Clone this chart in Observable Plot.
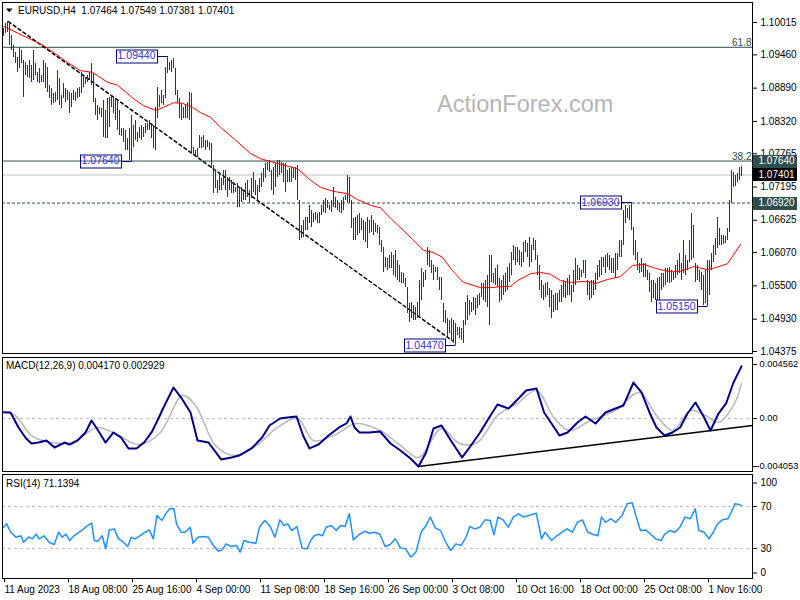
<!DOCTYPE html>
<html><head><meta charset="utf-8">
<script src="https://cdn.jsdelivr.net/npm/d3@7"></script>
<script src="https://cdn.jsdelivr.net/npm/@observablehq/plot@0.6"></script>
<style>
html,body{margin:0;padding:0;background:#fff;}
#chart{position:relative;width:800px;height:600px;overflow:hidden;background:#fff;}
#chart > svg{position:absolute;left:0;}
</style></head><body><div id="chart"></div>
<script>
// ---------- DATA ----------
const titleText = ["EURUSD,H4", "1.07464", "1.07549", "1.07381", "1.07401"];
const macdTitle = "MACD(12,26,9) 0.004170 0.002929";
const rsiTitle = "RSI(14) 71.1394";

const barHigh = [
1.0991,1.1000,1.1003,1.1002,1.0979,1.0962,1.0950,1.0942,1.0959,1.0954,
1.0936,1.0933,1.0928,1.0936,1.0928,1.0954,1.0931,1.0916,1.0923,1.0911,
1.0936,1.0931,1.0924,1.0894,1.0888,1.0880,1.0882,1.0919,1.0906,1.0876,
1.0897,1.0888,1.0885,1.0882,1.0880,1.0885,1.0882,1.0888,1.0890,1.0916,
1.0911,1.0907,1.0911,1.0916,1.0931,1.0914,1.0871,1.0859,1.0856,1.0854,
1.0868,1.0851,1.0871,1.0873,1.0876,1.0873,1.0871,1.0868,1.0851,1.0820,
1.0820,1.0816,1.0803,1.0820,1.0842,1.0825,1.0834,1.0813,1.0822,1.0825,
1.0822,1.0828,1.0828,1.0834,1.0828,1.0825,1.0856,1.0890,1.0876,1.0885,
1.0876,1.0924,1.0944,1.0933,1.0936,1.0940,1.0923,1.0885,1.0871,1.0863,
1.0856,1.0859,1.0864,1.0882,1.0880,1.0787,1.0782,1.0786,1.0808,1.0804,
1.0808,1.0799,1.0799,1.0796,1.0794,1.0756,1.0748,1.0731,1.0743,1.0734,
1.0748,1.0748,1.0736,1.0736,1.0731,1.0726,1.0719,1.0726,1.0719,1.0719,
1.0714,1.0726,1.0731,1.0714,1.0734,1.0744,1.0731,1.0722,1.0734,1.0743,
1.0751,1.0760,1.0762,1.0765,1.0748,1.0753,1.0760,1.0765,1.0765,1.0762,
1.0760,1.0760,1.0748,1.0751,1.0753,1.0753,1.0753,1.0756,1.0696,1.0654,
1.0662,1.0667,1.0667,1.0688,1.0679,1.0674,1.0676,1.0674,1.0676,1.0688,
1.0696,1.0700,1.0696,1.0688,1.0696,1.0719,1.0702,1.0696,1.0691,1.0696,
1.0702,1.0705,1.0739,1.0736,1.0696,1.0666,1.0667,1.0671,1.0674,1.0666,
1.0662,1.0659,1.0667,1.0662,1.0671,1.0662,1.0657,1.0654,1.0650,1.0628,
1.0616,1.0599,1.0597,1.0602,1.0607,1.0602,1.0611,1.0594,1.0585,1.0573,
1.0571,1.0563,1.0547,1.0520,1.0522,1.0516,1.0513,1.0522,1.0559,1.0580,
1.0573,1.0576,1.0616,1.0611,1.0594,1.0585,1.0582,1.0582,1.0564,1.0564,
1.0520,1.0508,1.0494,1.0491,1.0494,1.0491,1.0486,1.0479,1.0479,1.0477,
1.0491,1.0522,1.0534,1.0525,1.0522,1.0530,1.0528,1.0534,1.0537,1.0554,
1.0554,1.0559,1.0568,1.0602,1.0602,1.0571,1.0580,1.0585,1.0563,1.0559,
1.0568,1.0571,1.0582,1.0588,1.0607,1.0619,1.0616,1.0616,1.0611,1.0607,
1.0624,1.0628,1.0623,1.0633,1.0619,1.0631,1.0628,1.0602,1.0585,1.0559,
1.0551,1.0554,1.0556,1.0546,1.0542,1.0534,1.0537,1.0537,1.0542,1.0551,
1.0559,1.0556,1.0563,1.0568,1.0551,1.0576,1.0597,1.0585,1.0580,1.0576,
1.0594,1.0594,1.0559,1.0556,1.0559,1.0559,1.0571,1.0585,1.0594,1.0599,
1.0599,1.0602,1.0606,1.0602,1.0597,1.0597,1.0606,1.0606,1.0628,1.0628,
1.0679,1.0688,1.0683,1.0688,1.0693,1.0650,1.0628,1.0607,1.0588,1.0597,
1.0588,1.0588,1.0576,1.0571,1.0559,1.0559,1.0554,1.0563,1.0564,1.0571,
1.0571,1.0580,1.0580,1.0582,1.0576,1.0573,1.0585,1.0594,1.0606,1.0588,
1.0628,1.0602,1.0594,1.0628,1.0674,1.0654,1.0588,1.0585,1.0576,1.0573,
1.0568,1.0576,1.0594,1.0594,1.0606,1.0619,1.0631,1.0667,1.0648,1.0636,
1.0636,1.0635,1.0648,1.0696,1.0748,1.0744,1.0739,1.0743,1.0753,1.0755];

const barLow = [
1.0978,1.0983,1.0984,1.0962,1.0954,1.0942,1.0931,1.0916,1.0923,1.0931,
1.0873,1.0911,1.0907,1.0906,1.0899,1.0902,1.0911,1.0899,1.0897,1.0899,
1.0899,1.0888,1.0882,1.0871,1.0859,1.0863,1.0864,1.0868,1.0859,1.0854,
1.0871,1.0864,1.0868,1.0846,1.0856,1.0868,1.0866,1.0871,1.0873,1.0880,
1.0890,1.0895,1.0899,1.0902,1.0894,1.0864,1.0842,1.0834,1.0844,1.0839,
1.0804,1.0803,1.0803,1.0822,1.0856,1.0846,1.0834,1.0816,1.0808,1.0806,
1.0796,1.0782,1.0782,1.0765,1.0764,1.0787,1.0799,1.0796,1.0803,1.0799,
1.0804,1.0811,1.0816,1.0816,1.0803,1.0786,1.0782,1.0837,1.0856,1.0863,
1.0859,1.0871,1.0914,1.0919,1.0916,1.0923,1.0876,1.0863,1.0837,1.0834,
1.0837,1.0837,1.0837,1.0834,1.0777,1.0774,1.0770,1.0770,1.0786,1.0786,
1.0787,1.0782,1.0787,1.0782,1.0751,1.0708,1.0717,1.0708,1.0714,1.0714,
1.0722,1.0714,1.0702,1.0714,1.0708,1.0708,1.0710,1.0684,1.0684,1.0693,
1.0696,1.0696,1.0702,1.0691,1.0700,1.0710,1.0705,1.0696,1.0710,1.0719,
1.0727,1.0734,1.0748,1.0744,1.0714,1.0705,1.0719,1.0736,1.0739,1.0743,
1.0727,1.0710,1.0727,1.0727,1.0727,1.0734,1.0731,1.0696,1.0628,1.0631,
1.0633,1.0645,1.0645,1.0657,1.0650,1.0659,1.0662,1.0657,1.0657,1.0671,
1.0676,1.0674,1.0683,1.0679,1.0676,1.0684,1.0683,1.0679,1.0676,1.0674,
1.0679,1.0696,1.0693,1.0691,1.0648,1.0628,1.0628,1.0636,1.0640,1.0645,
1.0628,1.0624,1.0614,1.0640,1.0642,1.0636,1.0642,1.0640,1.0619,1.0607,
1.0573,1.0582,1.0576,1.0580,1.0580,1.0568,1.0564,1.0559,1.0556,1.0554,
1.0554,1.0547,1.0503,1.0487,1.0494,1.0491,1.0491,1.0494,1.0494,1.0525,
1.0547,1.0559,1.0585,1.0582,1.0571,1.0559,1.0573,1.0559,1.0542,1.0525,
1.0487,1.0486,1.0462,1.0468,1.0456,1.0451,1.0447,1.0465,1.0460,1.0456,
1.0451,1.0482,1.0491,1.0499,1.0504,1.0508,1.0499,1.0511,1.0516,1.0530,
1.0525,1.0522,1.0513,1.0482,1.0556,1.0554,1.0551,1.0547,1.0522,1.0525,
1.0534,1.0539,1.0542,1.0556,1.0568,1.0594,1.0585,1.0590,1.0585,1.0582,
1.0590,1.0607,1.0599,1.0582,1.0590,1.0611,1.0594,1.0568,1.0542,1.0528,
1.0525,1.0530,1.0534,1.0513,1.0494,1.0504,1.0508,1.0508,1.0522,1.0522,
1.0530,1.0528,1.0534,1.0534,1.0522,1.0539,1.0551,1.0559,1.0559,1.0564,
1.0571,1.0563,1.0534,1.0525,1.0528,1.0534,1.0542,1.0559,1.0564,1.0568,
1.0582,1.0571,1.0582,1.0576,1.0571,1.0571,1.0563,1.0576,1.0599,1.0599,
1.0619,1.0657,1.0666,1.0662,1.0645,1.0602,1.0594,1.0576,1.0571,1.0573,
1.0564,1.0564,1.0559,1.0539,1.0522,1.0528,1.0525,1.0525,1.0525,1.0542,
1.0547,1.0551,1.0556,1.0554,1.0556,1.0559,1.0563,1.0568,1.0571,1.0559,
1.0571,1.0568,1.0576,1.0590,1.0594,1.0597,1.0556,1.0559,1.0556,1.0542,
1.0516,1.0520,1.0515,1.0534,1.0576,1.0590,1.0602,1.0614,1.0619,1.0619,
1.0621,1.0623,1.0628,1.0642,1.0691,1.0719,1.0720,1.0727,1.0731,1.0738];

const maBar = [0,20,32,38.5,44.5,52,57,65,70,76,80,85,89.5,94.5,98.5,103.5,108.5,115,123.5,128.5,133.5,147,153.5,158.5,165,172,177,183.5,188.5,193.5,200,204.5,210,215,219.5,224.5,230,238.5,243.5,250,253.5,257,263.5,268.5,273.5,278.5,283.5,292,296,302,308.5,314.5,320,326,332,338.5,345,352,355,362,368.5];
const maPrice = [1.0995,1.0962,1.0933,1.0919,1.0916,1.0899,1.0894,1.0871,1.0859,1.0851,1.0856,1.0864,1.0863,1.0856,1.0847,1.0839,1.0822,1.0803,1.0777,1.0768,1.0763,1.0751,1.0731,1.0719,1.0712,1.0708,1.0698,1.0688,1.0684,1.0666,1.0645,1.0630,1.0611,1.0607,1.0599,1.0576,1.0556,1.0547,1.0547,1.0549,1.0549,1.0559,1.0571,1.0573,1.0570,1.0559,1.0556,1.0558,1.0554,1.0561,1.0566,1.0585,1.0587,1.0580,1.0575,1.0575,1.0583,1.0578,1.0580,1.0588,1.0621];

const trendBar = [2.5, 224.5];
const trendPrice = [1.1003, 1.0456];

const fibLevels = [1.0959, 1.0764];
const fibLabels = ["61.8", "38.2"];
const currentPrice = 1.07401;
const supportLevel = 1.0692;

const priceTicks = [1.10015,1.09460,1.08890,1.08320,1.07765,1.07195,1.06625,1.06070,1.05500,1.04930,1.04375];
const tagValues = [1.0764, 1.07401, 1.0692];
const tagText = ["1.07640", "1.07401", "1.06920"];
const tagFill = ["#2f4f4f", "#000000", "#2f4f4f"];

const lblText = ["1.09440", "1.07640", "1.06930", "1.05150", "1.04470"];
const lblBar = [82, 64, 314, 352, 226];
const lblPrice = [1.0944, 1.0764, 1.0693, 1.0515, 1.0447];

const macdBar = [0,3.5,7.5,11.3,14,17.5,21.5,25.5,30.5,33,37,41,44,47,51,55,58.8,62.5,66.5,70.3,74,76.5,80.5,85,88.8,93.5,97,102.5,108.8,114,117.8,124,129.3,133,138.3,142,146.5,149.8,153,157.5,162.5,167.8,171.5,173.5,175.5,178,183,188.3,193.5,198.5,203.5,207.5,211.3,215,219,224,229.3,233,238.3,243.5,247,252.5,257.5,261.3,266.5,270.3,274,278,282,287,291,296,301,306,310,315,319,323,326.5,330.5,334.5,338.3,342,346,349.8,353.5,357.5,361.3,365,369];
const macdVal = [0.00053,0.00051,-0.00076,-0.00169,-0.00211,-0.00203,-0.00186,-0.00245,-0.00203,-0.00220,-0.00186,-0.00118,-0.00017,-0.00093,-0.00203,-0.00118,-0.00161,-0.00253,-0.00253,-0.00203,-0.00118,-0.00034,0.00110,0.00262,0.00177,0.00051,-0.00186,-0.00203,-0.00346,-0.00329,-0.00313,-0.00253,-0.00161,-0.00059,0.0,0.00008,0.00017,-0.00144,-0.00253,-0.00220,-0.00144,-0.00076,-0.00042,0.00017,-0.00076,-0.00118,-0.00118,-0.00110,-0.00211,-0.00270,-0.00338,-0.00405,-0.00287,-0.00084,-0.00059,-0.00194,-0.00329,-0.00245,-0.00118,0.00025,0.00118,0.00084,0.00169,0.00237,0.00253,0.00051,-0.00042,-0.00144,-0.00118,-0.00034,0.00017,-0.00042,0.00051,0.00084,0.00110,0.00304,0.00220,0.00051,-0.00076,-0.00144,-0.00118,-0.00076,0.00042,0.00135,0.00025,-0.00101,0.00042,0.00127,0.00304,0.00440];
const sigBar = [0,6,14,24,34.5,47,57.5,67.5,78,89.5,96,106,115,126.5,137,147,155,165,176.5,188.3,198.5,207.5,219,228,237,247,257.5,266.5,275.5,283,293.5,306,317.8,326.5,334.5,343.5,351,357.5,365,369];
const sigVal = [0.00051,0.00025,-0.00144,-0.00203,-0.00203,-0.00076,-0.00144,-0.00220,-0.00127,0.00194,0.00110,-0.00228,-0.00313,-0.00228,-0.00076,0.0,-0.00186,-0.00144,-0.00042,-0.00101,-0.00228,-0.00329,-0.00084,-0.00211,-0.00203,0.00025,0.00135,0.00237,0.0,-0.00101,-0.00017,0.00068,0.00220,0.00025,-0.00101,0.00068,0.00025,-0.00034,0.00110,0.00293];
const macdTrendBar = [207.5, 374.5];
const macdTrendVal = [-0.00406, -0.00059];
const macdTicks = [0.004562, 0, -0.004053];
const macdTickLabels = ["0.004562", "0.00", "-0.004053"];

const rsiBar = [0,1.6,3.6,6.2,8.8,10,12.6,14.4,16.4,17.7,20.3,22.8,25.4,27.5,29.3,31.3,33.1,35.2,37,39.5,42.1,44.1,45.4,47.2,49.3,51.1,52.9,55.4,57.5,60,62.1,63.9,65.7,68.2,70.8,72.9,74.9,76.7,79.3,81.1,83.1,85.2,86.5,88.8,90.8,93.4,94.7,97.2,99.8,102.4,104.9,107.5,109.3,111.3,113.9,116.5,118.3,120.3,122.9,126.2,128,130.6,133.1,135.7,138.2,140.3,142.1,144.1,146.7,149.3,151.8,153.6,155.4,157.5,159.5,161.3,163.9,166.4,168.5,170.8,172.9,174.9,178,180.6,183.1,185.7,188.2,190.8,193.4,195.9,198.5,201.1,203.6,206.2,208.8,211.3,213.4,215.9,218.5,221.1,223.6,226.2,228.8,231.3,233.1,235.7,238.2,240.8,243.4,245.2,247.2,249.8,252.4,254.9,257.5,260,262.6,266.4,269,270.8,274.1,276.7,279.3,281.8,284.4,287,289.5,292.1,294.6,297.2,299,301.1,303.6,306.2,309.3,311.8,314.4,316.4,318.5,321.1,323.6,326.2,328.8,330.6,333.1,335.7,338.2,340.8,343.4,345.9,347.7,350.3,352.8,354.9,357,359.5,362.1,363.9,365.7,367.7,369];
const rsiVal = [50.3,53.5,45.5,40.8,42.1,36.0,40.8,39.2,43.6,39.2,42.1,36.0,33.8,45.5,40.8,43.6,37.6,42.1,44.5,47.7,51.9,54.1,37.6,37.0,42.1,29.7,47.7,48.7,39.2,36.0,31.9,40.8,39.2,42.1,45.5,47.7,39.2,61.4,56.7,63.0,67.8,67.8,53.5,45.5,45.5,50.3,35.1,40.8,41.4,40.8,32.9,27.5,28.7,34.4,31.9,32.9,26.5,37.6,36.0,35.1,50.3,56.7,51.9,40.8,57.3,51.9,53.5,47.1,50.9,30.3,29.7,37.6,42.1,43.6,42.1,50.3,51.9,47.1,51.9,50.9,63.0,38.2,43.6,46.4,44.5,45.5,43.6,31.9,33.8,39.2,30.6,29.7,21.7,26.5,45.5,51.9,59.9,49.7,47.1,36.0,28.1,34.4,32.9,40.8,50.9,48.7,50.3,57.3,56.7,43.0,59.9,57.3,50.3,59.9,63.0,59.9,61.4,63.6,39.2,45.5,37.6,42.1,45.5,48.7,45.5,55.0,57.3,45.5,43.6,42.1,59.9,55.0,58.3,55.0,61.4,72.6,73.5,59.9,47.1,47.7,43.6,39.2,37.6,43.6,47.1,45.5,50.3,59.9,58.3,67.8,47.1,45.5,39.2,45.5,53.5,57.3,58.3,64.6,72.6,72.0,71.1];
const rsiLevels = [70, 30];

const xTickBars = [0,32,64,96,128,160,192,224,256,288,320,352];
const xTickLabels = ["11 Aug 2023","18 Aug 08:00","25 Aug 16:00","4 Sep 00:00","11 Sep 08:00","18 Sep 16:00","26 Sep 00:00","3 Oct 08:00","10 Oct 16:00","18 Oct 00:00","25 Oct 08:00","1 Nov 16:00"];

// ---------- STYLE ----------
const FONT = '"Liberation Sans", Arial, sans-serif';
const BAR = "#123f55";
const SLATE = "#2f4f4f";
const LBL = "#2f2fd0";
const LBL_BORDER = "#00007a";
const xDomain = [-0.5, 374.5];
const common = {
  width: 800, marginLeft: 2, marginRight: 48,
  style: {fontFamily: FONT, fontSize: "10px", background: "transparent", color: "#000", overflow: "visible"}
};

const bars = barHigh.map((h, i) => ({i, h, l: barLow[i]}));
const ma = maBar.map((b, k) => ({b, p: maPrice[k]}));
const trend = trendBar.map((b, k) => ({b, p: trendPrice[k]}));
const labels = lblText.map((t, k) => ({t, b: lblBar[k], p: lblPrice[k]}));
const macd = macdBar.map((b, k) => ({b, v: macdVal[k]}));
const sig = sigBar.map((b, k) => ({b, v: sigVal[k]}));
const macdTrend = macdTrendBar.map((b, k) => ({b, v: macdTrendVal[k]}));
const rsi = rsiBar.map((b, k) => ({b, v: rsiVal[k]}));

// ---------- MAIN PANEL ----------
const main = Plot.plot({
  ...common, height: 356, marginTop: 2, marginBottom: 3,
  x: {domain: xDomain, axis: null, label: null},
  y: {domain: [1.04341, 1.10358], label: null},
  marks: [
    Plot.ruleY(fibLevels, {stroke: SLATE}),
    Plot.ruleY([currentPrice], {stroke: "#c0c0c0"}),
    Plot.ruleY([supportLevel], {stroke: SLATE, strokeDasharray: "3,2"}),
    Plot.line(trend, {x: "b", y: "p", stroke: "#000", strokeDasharray: "3,3"}),
    Plot.ruleX(bars, {x: "i", y1: "l", y2: "h", stroke: BAR, shapeRendering: "crispEdges"}),
    Plot.line(ma, {x: "b", y: "p", stroke: "#ff0000", strokeWidth: 1}),
    Plot.text(fibLevels, {y: d => d, text: (d, i) => fibLabels[i], frameAnchor: "right", textAnchor: "end", lineAnchor: "bottom", dx: -1, dy: -1, fill: SLATE}),
    Plot.axisY({anchor: "right", ticks: priceTicks, tickFormat: d => d.toFixed(5), tickSize: 4, tickPadding: 4, label: null}),
    Plot.text(labels, {x: "b", y: "p", text: "t", textAnchor: "end", dx: -12, fill: LBL, fontSize: 10.5}),
    Plot.text(tagValues, {y: d => d, text: (d, i) => tagText[i], frameAnchor: "right", textAnchor: "start", dx: 6, fill: "#fff"}),
    Plot.frame({stroke: "#000"})
  ]
});

// ---------- MACD PANEL ----------
const macdPlot = Plot.plot({
  ...common, height: 117, marginTop: 2, marginBottom: 1,
  x: {domain: xDomain, axis: null, label: null},
  y: {domain: [-0.004478, 0.005153], label: null},
  marks: [
    Plot.ruleY([0], {stroke: "#c0c0c0", strokeDasharray: "3,3"}),
    Plot.line(macdTrend, {x: "b", y: "v", stroke: "#000"}),
    Plot.line(sig, {x: "b", y: "v", stroke: "#b8b8b8", curve: "catmull-rom"}),
    Plot.line(macd, {x: "b", y: "v", stroke: "#00008b", strokeWidth: 2}),
    Plot.axisY({anchor: "right", ticks: macdTicks.slice(0, 2), tickFormat: d => macdTickLabels[macdTicks.indexOf(d)], tickSize: 4, tickPadding: 3, fontSize: 9.3, label: null}),
    Plot.axisY({anchor: "right", ticks: macdTicks.slice(2), tickFormat: d => macdTickLabels[macdTicks.indexOf(d)], tickSize: 4, tickPadding: 0, fontSize: 9.3, label: null}),
    Plot.frame({stroke: "#000"})
  ]
});

// ---------- RSI PANEL ----------
const rsiPlot = Plot.plot({
  ...common, height: 128, marginTop: 2, marginBottom: 22,
  x: {domain: xDomain, label: null},
  y: {domain: [1.43, 100.48], label: null},
  marks: [
    Plot.ruleY(rsiLevels, {stroke: "#c0c0c0", strokeDasharray: "3,3"}),
    Plot.line(rsi, {x: "b", y: "v", stroke: "#1e90ff"}),
    Plot.axisX({ticks: xTickBars, tickFormat: d => xTickLabels[xTickBars.indexOf(d)], tickSize: 4, tickPadding: 3, textAnchor: "start", dx: 1, label: null}),
    Plot.axisY({anchor: "right", ticks: rsiLevels, tickSize: 4, tickPadding: 4, label: null}),
    Plot.axisY({anchor: "right", ticks: [100], tickSize: 4, tickPadding: 4, dy: 8, label: null}),
    Plot.axisY({anchor: "right", ticks: [0], tickSize: 4, tickPadding: 4, dy: -7, label: null}),
    Plot.frame({stroke: "#000"})
  ]
});

const chart = document.getElementById("chart");
main.style.top = "0px";
macdPlot.style.top = "355px";
rsiPlot.style.top = "472px";
chart.append(main, macdPlot, rsiPlot);

// ---------- overlay text (title, watermark, indicator names) ----------
const ov = d3.create("svg").attr("width", 800).attr("height", 600)
  .style("position", "absolute").style("top", "0px").style("left", "0px")
  .style("font-family", FONT).style("pointer-events", "none");
ov.append("path").attr("d", "M6,8.5L12.5,8.5L9.25,12.2Z").attr("fill", "#000");
ov.append("text").attr("x", 18).attr("y", 14).attr("font-size", 10).attr("fill", "#000")
  .style("white-space", "pre").text(titleText[0] + "  " + titleText.slice(1).join(" "));
ov.append("text").attr("x", 437).attr("y", 112).attr("font-size", 23.5).attr("fill", "#b5b5b5").text("ActionForex.com");
ov.append("text").attr("x", 6).attr("y", 369).attr("font-size", 10).attr("fill", "#000").text(macdTitle);
ov.append("text").attr("x", 6).attr("y", 487).attr("font-size", 10).attr("fill", "#000").text(rsiTitle);
chart.append(ov.node());

// ---------- boxes behind tags / around price labels ----------
const SVGNS = "http://www.w3.org/2000/svg";
function findGroup(svg, firstText) {
  for (const g of svg.querySelectorAll("g")) {
    const t = g.querySelector(":scope > text");
    if (t && t.textContent === firstText) return g;
  }
  return null;
}
function eachText(svg, g, fn) {
  if (!g) return;
  const sr = svg.getBoundingClientRect();
  g.querySelectorAll("text").forEach((t, k) => {
    const r = t.getBoundingClientRect();
    fn(k, {x: r.left - sr.left, y: r.top - sr.top, w: r.width, h: r.height});
  });
}
const ys = main.scale("y"), xs = main.scale("x");
const tagG = findGroup(main, tagText[0]);
eachText(main, tagG, (k, b) => {
  const cy = Math.round(ys.apply(tagValues[k]));
  const rect = document.createElementNS(SVGNS, "rect");
  rect.setAttribute("x", 753); rect.setAttribute("y", cy - 6);
  rect.setAttribute("width", 44); rect.setAttribute("height", 13);
  rect.setAttribute("fill", tagFill[k]);
  main.insertBefore(rect, tagG);
});
const lblG = findGroup(main, lblText[0]);
eachText(main, lblG, (k, b) => {
  const cy = Math.round(ys.apply(lblPrice[k])) + 0.5;
  const ax = Math.round(xs.apply(lblBar[k])) + 0.5;
  const x0 = Math.round(b.x) - 1.5, x1 = Math.round(b.x + b.w) + 1.5;
  const rect = document.createElementNS(SVGNS, "rect");
  rect.setAttribute("x", x0); rect.setAttribute("y", cy - 6.5);
  rect.setAttribute("width", x1 - x0); rect.setAttribute("height", 13);
  rect.setAttribute("fill", "none"); rect.setAttribute("stroke", LBL_BORDER);
  main.insertBefore(rect, lblG);
  const line = document.createElementNS(SVGNS, "line");
  line.setAttribute("x1", x1); line.setAttribute("x2", ax);
  line.setAttribute("y1", cy); line.setAttribute("y2", cy);
  line.setAttribute("stroke", LBL_BORDER);
  main.insertBefore(line, lblG);
});
</script></body></html>
